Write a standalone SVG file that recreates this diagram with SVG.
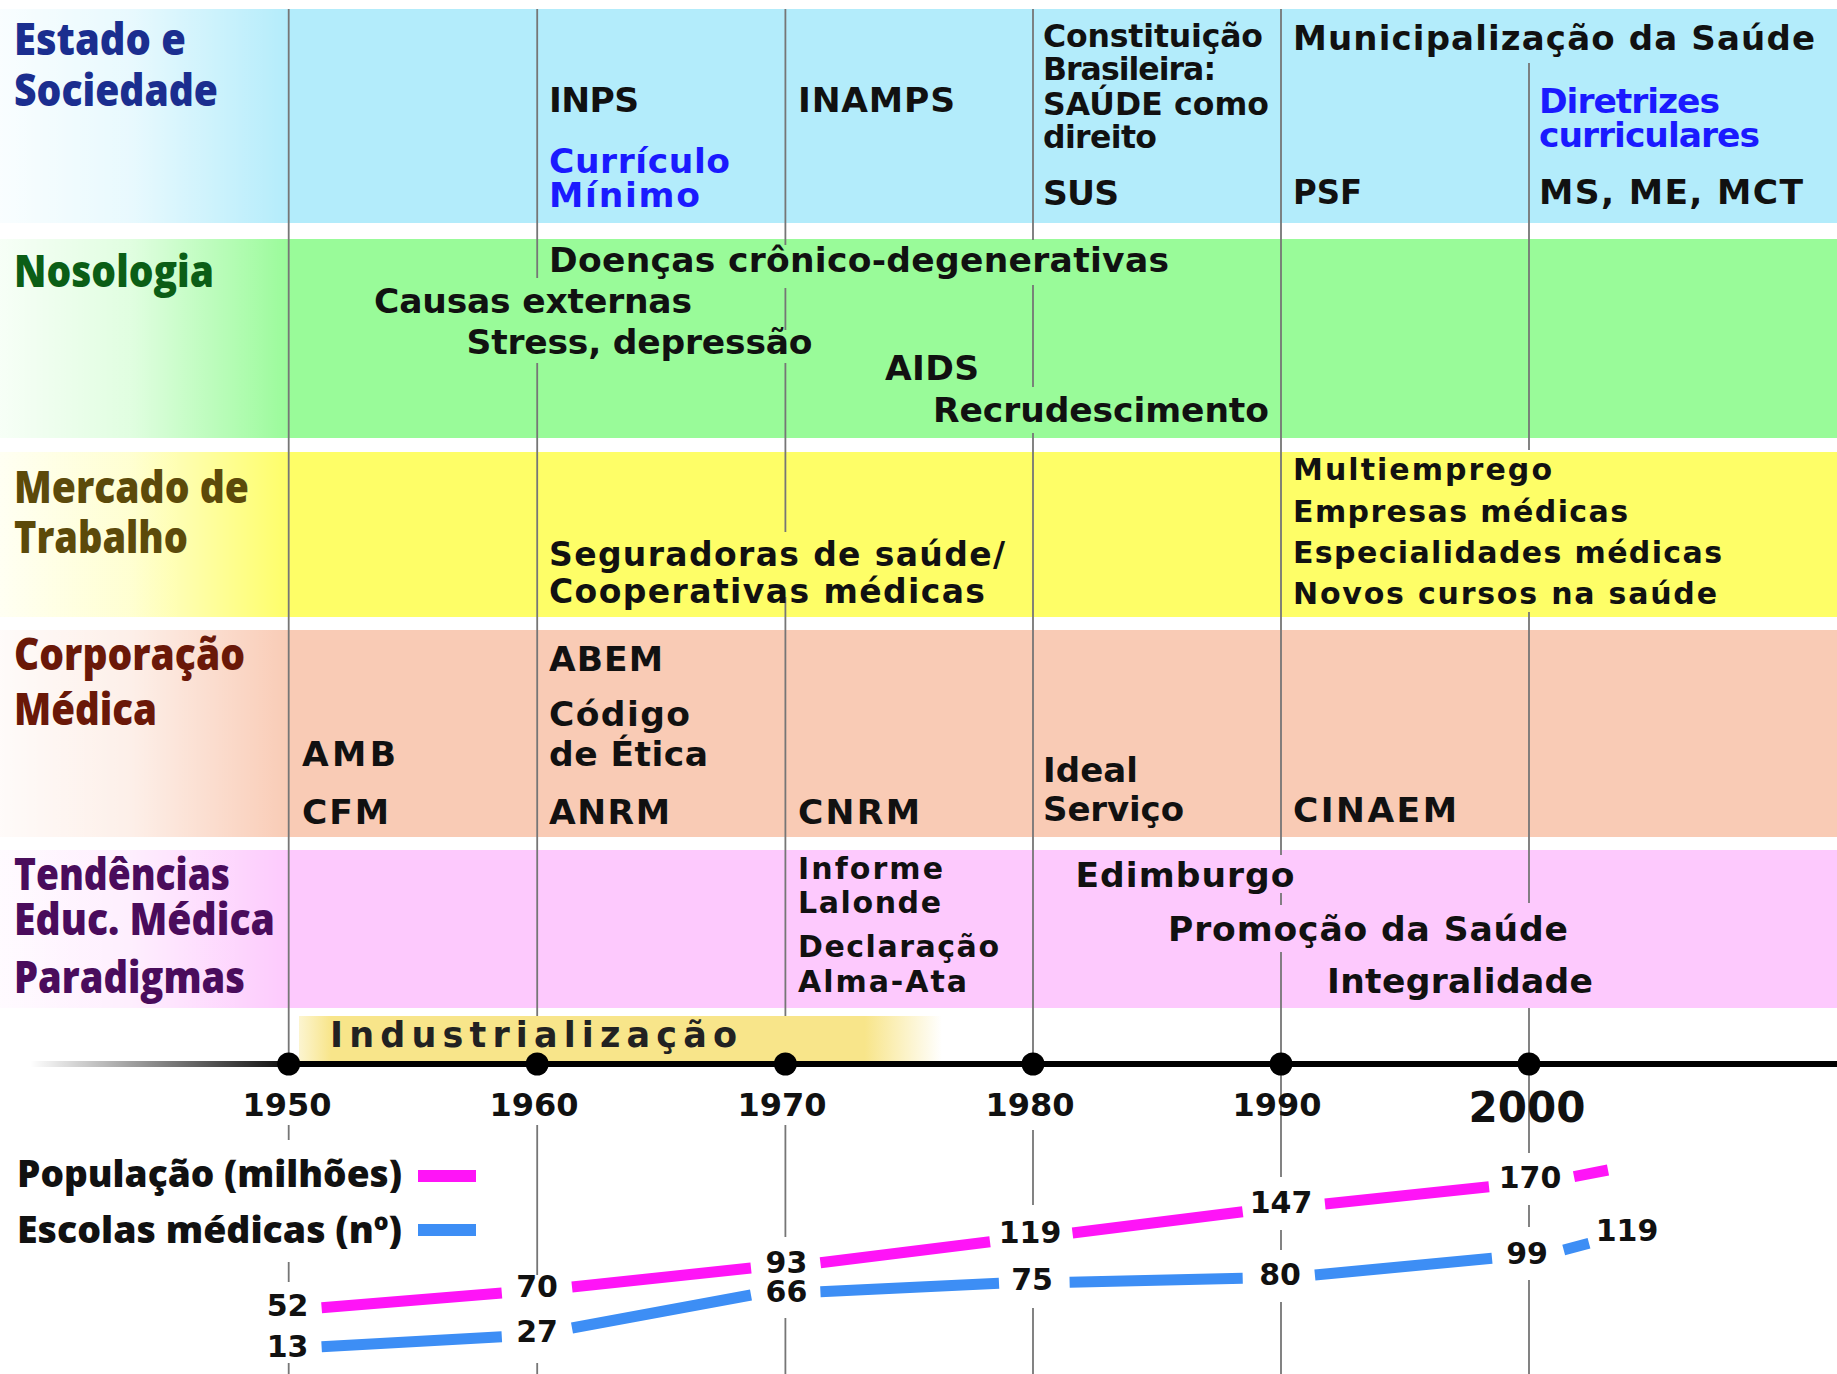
<svg xmlns="http://www.w3.org/2000/svg" width="1837" height="1374" viewBox="0 0 1837 1374">
  <defs>
    <!-- white wash that softens the left end of every band under the headings -->
    <linearGradient id="labelFade" gradientUnits="userSpaceOnUse" x1="0" y1="0" x2="292" y2="0">
      <stop offset="0" stop-color="#ffffff" stop-opacity="0.92"/>
      <stop offset="0.45" stop-color="#ffffff" stop-opacity="0.7"/>
      <stop offset="1" stop-color="#ffffff" stop-opacity="0"/>
    </linearGradient>
    <linearGradient id="axisFade" gradientUnits="userSpaceOnUse" x1="30" y1="0" x2="300" y2="0">
      <stop offset="0" stop-color="#000000" stop-opacity="0"/>
      <stop offset="1" stop-color="#000000" stop-opacity="1"/>
    </linearGradient>
    <linearGradient id="eraFill" gradientUnits="userSpaceOnUse" x1="299" y1="0" x2="942" y2="0">
      <stop offset="0" stop-color="#f8e58a" stop-opacity="0.4"/>
      <stop offset="0.05" stop-color="#f8e58a"/>
      <stop offset="0.88" stop-color="#f8e58a"/>
      <stop offset="1" stop-color="#f8e58a" stop-opacity="0"/>
    </linearGradient>
  </defs>
  <style>
    text { font-family: "DejaVu Sans", Verdana, sans-serif; font-weight: 700; fill: #111111; }
    .head { font-family: "Open Sans", "Noto Sans", sans-serif; font-size: 44px; font-weight: 800; }
    .legend { font-family: "Open Sans", "Noto Sans", sans-serif; font-size: 37px; font-weight: 800; }
    .item { font-size: 34.5px; }
    .mid { font-size: 31.5px; }
    .small { font-size: 30px; }
    .era { font-size: 35px; fill: #222222; }
    .blue { fill: #1a1aff; }
    .c-estado { fill: #1b2e8f; }
    .c-noso { fill: #0b5e16; }
    .c-merc { fill: #5c4a0a; }
    .c-corp { fill: #6a1808; }
    .c-tend { fill: #4a0c5c; }
    .year { font-size: 32px; text-anchor: middle; }
    .big { font-size: 42px; }
    .num { font-size: 30px; text-anchor: middle; }
    .grid { fill: none; stroke: #767676; stroke-width: 1.8; }
    .pop { fill: none; stroke: #ff14f7; stroke-width: 11; }
    .esc { fill: none; stroke: #3d8ef5; stroke-width: 11; }
    .dot { fill: #000000; }
  </style>

  <!-- background bands -->
  <g id="bands">
    <rect x="0" y="9" width="1837" height="214" fill="#b3ecfb"/>
    <rect x="0" y="239" width="1837" height="199" fill="#99fb99"/>
    <rect x="0" y="452" width="1837" height="165" fill="#fefe67"/>
    <rect x="0" y="630" width="1837" height="207" fill="#f9cbb5"/>
    <rect x="0" y="850" width="1837" height="158" fill="#fdc9fd"/>
    <rect x="0" y="9" width="292" height="999" fill="url(#labelFade)"/>
  </g>

  <!-- industrialisation era bar -->
  <g id="era-industrializacao">
    <rect x="299" y="1016" width="643" height="46" fill="url(#eraFill)"/>
    <text class="era" x="330" y="1047" textLength="407" lengthAdjust="spacing">Industrialização</text>
  </g>

  <!-- connectors: decade gridlines, time axis and data series -->
  <g id="connectors">
    <path class="grid" d="M288.7 9V1064M288.7 1125V1140M288.7 1262V1282M288.7 1363V1374"/>
    <path class="grid" d="M537.2 9V278M537.2 363V1016M537.2 1125V1275M537.2 1363V1374"/>
    <path class="grid" d="M785.4 9V245M785.4 288V330M785.4 363V532M785.4 597V1016M785.4 1125V1237M785.4 1318V1374"/>
    <path class="grid" d="M1033 9V240M1033 285V387M1033 433V1064M1033 1130V1205M1033 1308V1374"/>
    <path class="grid" d="M1281 9V855M1281 893V905M1281 952V1177M1281 1230V1250M1281 1302V1374"/>
    <path class="grid" d="M1529 63V450M1529 612V903M1529 1008V1153M1529 1205V1227M1529 1280V1374"/>
    <line x1="30" y1="1064" x2="1837" y2="1064" stroke="url(#axisFade)" stroke-width="6"/>
    <path class="pop" d="M321.6 1307.7L501.8 1293M572 1287L751 1268M820.4 1262.7L990 1241.7M1072.5 1233L1242.7 1211.7M1325 1204L1489 1186.7M1574 1176.7L1608 1170"/>
    <path class="esc" d="M321.6 1346.7L501.8 1336.7M572 1328L751 1295M820.4 1291.7L999 1283.3M1069.6 1282.3L1242.7 1278.3M1314.9 1275L1492 1258.3M1563.7 1250L1589 1243.3"/>
  </g>

  <!-- decade markers on the axis -->
  <g id="decades">
    <circle class="dot" cx="288.7" cy="1064" r="11.5"/>
    <circle class="dot" cx="537.2" cy="1064" r="11.5"/>
    <circle class="dot" cx="785.4" cy="1064" r="11.5"/>
    <circle class="dot" cx="1033" cy="1064" r="11.5"/>
    <circle class="dot" cx="1281" cy="1064" r="11.5"/>
    <circle class="dot" cx="1529" cy="1064" r="11.5"/>
    <text class="year" x="287" y="1116">1950</text>
    <text class="year" x="534" y="1116">1960</text>
    <text class="year" x="782" y="1116">1970</text>
    <text class="year" x="1030" y="1116">1980</text>
    <text class="year" x="1277" y="1116">1990</text>
    <text class="year big" x="1527" y="1122">2000</text>
  </g>

  <!-- Estado e Sociedade -->
  <g id="row-estado">
    <text class="head c-estado" x="14" y="55" textLength="172" lengthAdjust="spacingAndGlyphs">Estado e</text>
    <text class="head c-estado" x="14" y="106" textLength="204" lengthAdjust="spacingAndGlyphs">Sociedade</text>
    <text class="item" x="549" y="112" textLength="90" lengthAdjust="spacing">INPS</text>
    <text class="item blue" x="549" y="173" textLength="181" lengthAdjust="spacing">Currículo</text>
    <text class="item blue" x="549" y="207" textLength="151" lengthAdjust="spacing">Mínimo</text>
    <text class="item" x="798" y="112" textLength="157" lengthAdjust="spacing">INAMPS</text>
    <text class="mid" x="1043" y="47" textLength="220" lengthAdjust="spacing">Constituição</text>
    <text class="mid" x="1043" y="80" textLength="173" lengthAdjust="spacing">Brasileira:</text>
    <text class="mid" x="1043" y="115" textLength="226" lengthAdjust="spacing">SAÚDE como</text>
    <text class="mid" x="1043" y="148" textLength="114" lengthAdjust="spacing">direito</text>
    <text class="item" x="1043" y="205" textLength="76" lengthAdjust="spacing">SUS</text>
    <text class="item" x="1293" y="50" style="font-size:34px" textLength="522" lengthAdjust="spacing">Municipalização da Saúde</text>
    <text class="item" x="1293" y="204" textLength="69" lengthAdjust="spacingAndGlyphs">PSF</text>
    <text class="item blue" x="1539" y="113" textLength="181" lengthAdjust="spacing">Diretrizes</text>
    <text class="item blue" x="1539" y="147" textLength="221" lengthAdjust="spacing">curriculares</text>
    <text class="item" x="1539" y="204" textLength="264" lengthAdjust="spacing">MS, ME, MCT</text>
  </g>

  <!-- Nosologia -->
  <g id="row-nosologia">
    <text class="head c-noso" x="14" y="287" textLength="200" lengthAdjust="spacingAndGlyphs">Nosologia</text>
    <text class="item" x="549" y="272" textLength="620" lengthAdjust="spacing">Doenças crônico-degenerativas</text>
    <text class="item" x="374" y="313" textLength="318" lengthAdjust="spacing">Causas externas</text>
    <text class="item" x="466.5" y="354" textLength="346" lengthAdjust="spacing">Stress, depressão</text>
    <text class="item" x="885" y="380" textLength="94" lengthAdjust="spacing">AIDS</text>
    <text class="item" x="933" y="422" textLength="336" lengthAdjust="spacing">Recrudescimento</text>
  </g>

  <!-- Mercado de Trabalho -->
  <g id="row-mercado">
    <text class="head c-merc" x="14" y="503" textLength="235" lengthAdjust="spacingAndGlyphs">Mercado de</text>
    <text class="head c-merc" x="14" y="553" textLength="174" lengthAdjust="spacingAndGlyphs">Trabalho</text>
    <text class="item" x="549" y="566" style="font-size:33px" textLength="456" lengthAdjust="spacing">Seguradoras de saúde/</text>
    <text class="item" x="549" y="603" style="font-size:33px" textLength="436" lengthAdjust="spacing">Cooperativas médicas</text>
    <text class="small" x="1293" y="480" textLength="259" lengthAdjust="spacing">Multiemprego</text>
    <text class="small" x="1293" y="522" textLength="335" lengthAdjust="spacing">Empresas médicas</text>
    <text class="small" x="1293" y="563" textLength="429" lengthAdjust="spacing">Especialidades médicas</text>
    <text class="small" x="1293" y="604" textLength="424" lengthAdjust="spacing">Novos cursos na saúde</text>
  </g>

  <!-- Corporação Médica -->
  <g id="row-corporacao">
    <text class="head c-corp" x="14" y="670" textLength="231" lengthAdjust="spacingAndGlyphs">Corporação</text>
    <text class="head c-corp" x="14" y="725" textLength="143" lengthAdjust="spacingAndGlyphs">Médica</text>
    <text class="item" x="549" y="671" textLength="114" lengthAdjust="spacing">ABEM</text>
    <text class="item" x="549" y="726" textLength="141" lengthAdjust="spacing">Código</text>
    <text class="item" x="549" y="766" textLength="159" lengthAdjust="spacing">de Ética</text>
    <text class="item" x="302" y="766" textLength="94" lengthAdjust="spacing">AMB</text>
    <text class="item" x="302" y="824" textLength="87" lengthAdjust="spacing">CFM</text>
    <text class="item" x="549" y="824" textLength="121" lengthAdjust="spacing">ANRM</text>
    <text class="item" x="798" y="824" textLength="122" lengthAdjust="spacing">CNRM</text>
    <text class="item" x="1043" y="782" style="font-size:34px" textLength="95" lengthAdjust="spacing">Ideal</text>
    <text class="item" x="1043" y="821" style="font-size:34px" textLength="141" lengthAdjust="spacing">Serviço</text>
    <text class="item" x="1293" y="822" textLength="164" lengthAdjust="spacing">CINAEM</text>
  </g>

  <!-- Tendências Educ. Médica / Paradigmas -->
  <g id="row-tendencias">
    <text class="head c-tend" x="14" y="890" textLength="216" lengthAdjust="spacingAndGlyphs">Tendências</text>
    <text class="head c-tend" x="14" y="935" textLength="261" lengthAdjust="spacingAndGlyphs">Educ. Médica</text>
    <text class="head c-tend" x="14" y="993" textLength="231" lengthAdjust="spacingAndGlyphs">Paradigmas</text>
    <text class="small" x="798" y="879" textLength="145" lengthAdjust="spacing">Informe</text>
    <text class="small" x="798" y="913" textLength="143" lengthAdjust="spacing">Lalonde</text>
    <text class="small" x="798" y="957" textLength="201" lengthAdjust="spacing">Declaração</text>
    <text class="small" x="798" y="992" textLength="169" lengthAdjust="spacing">Alma-Ata</text>
    <text class="item" x="1075.5" y="887" textLength="219" lengthAdjust="spacing">Edimburgo</text>
    <text class="item" x="1168" y="941" textLength="400" lengthAdjust="spacing">Promoção da Saúde</text>
    <text class="item" x="1327" y="993" textLength="266" lengthAdjust="spacing">Integralidade</text>
  </g>

  <!-- legend -->
  <g id="legend">
    <text class="legend" x="17" y="1187" textLength="385" lengthAdjust="spacingAndGlyphs">População (milhões)</text>
    <rect x="418" y="1170" width="58" height="12" fill="#ff14f7"/>
    <text class="legend" x="17" y="1243" textLength="385" lengthAdjust="spacingAndGlyphs">Escolas médicas (nº)</text>
    <rect x="418" y="1224" width="58" height="12" fill="#3d8ef5"/>
  </g>

  <!-- population values -->
  <g id="series-populacao">
    <text class="num" x="287.6" y="1316">52</text>
    <text class="num" x="537" y="1297">70</text>
    <text class="num" x="786.4" y="1273">93</text>
    <text class="num" x="1030" y="1243">119</text>
    <text class="num" x="1281" y="1213">147</text>
    <text class="num" x="1530" y="1188">170</text>
  </g>

  <!-- medical school counts -->
  <g id="series-escolas">
    <text class="num" x="287.6" y="1357">13</text>
    <text class="num" x="537" y="1342">27</text>
    <text class="num" x="786.4" y="1302">66</text>
    <text class="num" x="1032" y="1290">75</text>
    <text class="num" x="1280" y="1285">80</text>
    <text class="num" x="1527" y="1264">99</text>
    <text class="num" x="1627" y="1241">119</text>
  </g>
</svg>
